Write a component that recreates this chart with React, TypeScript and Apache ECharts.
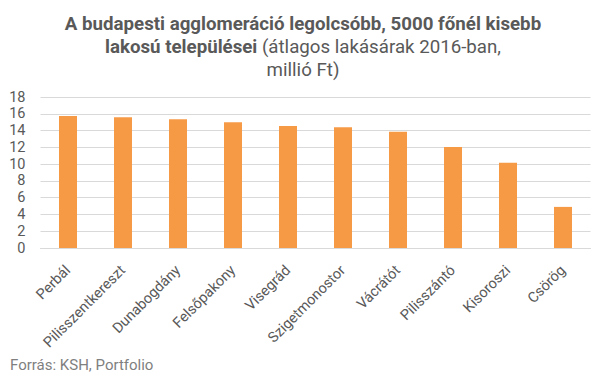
import React, { useEffect, useRef } from "react";
import * as echarts from "echarts";

const categories = [
  "Perbál",
  "Pilisszentkereszt",
  "Dunabogdány",
  "Felsőpakony",
  "Visegrád",
  "Szigetmonostor",
  "Vácrátót",
  "Pilisszántó",
  "Kisoroszi",
  "Csörög",
];
const prices = [15.75, 15.6, 15.35, 15.0, 14.55, 14.4, 13.85, 12.05, 10.15, 4.9];
const yTicks = { min: 0, max: 18, interval: 2 };
const titleLines = [
  "{b|A budapesti agglomeráció legolcsóbb, 5000 főnél kisebb}",
  "{b|lakosú települései}{n| (átlagos lakásárak 2016-ban,}",
  "{n|millió Ft)}",
];
const sourceText = "Forrás: KSH, Portfolio";

export default function App() {
  const ref = useRef<HTMLDivElement>(null);
  useEffect(() => {
    if (!ref.current) return;
    const chart = echarts.init(ref.current, null, { renderer: "svg" });
    const rich = {
      b: { fontFamily: "Roboto", fontWeight: "bold", fontSize: 18.7, fill: "#595959", color: "#595959" },
      n: { fontFamily: "Roboto", fontWeight: "normal", fontSize: 18.7, fill: "#595959", color: "#595959" },
    };
    chart.setOption({
      animation: false,
      textStyle: { fontFamily: "Roboto" },
      graphic: [
        ...titleLines.map((t, i) => ({
          type: "text",
          x: 303,
          y: 24 + i * 23,
          style: { text: t, rich, align: "center", verticalAlign: "middle" },
        })),
        {
          type: "text",
          left: 10,
          top: 357,
          style: { text: sourceText, fill: "#7f7f7f", fontSize: 15, fontFamily: "Roboto" },
        },
      ],
      grid: { left: 40.5, right: 14.5, top: 97, bottom: 130 },
      xAxis: {
        type: "category",
        data: categories,
        axisTick: { show: false },
        axisLine: { lineStyle: { color: "#D9D9D9" } },
        axisLabel: { rotate: 45, color: "#595959", fontSize: 14.5, margin: 20, interval: 0 },
      },
      yAxis: {
        type: "value",
        min: yTicks.min,
        max: yTicks.max,
        interval: yTicks.interval,
        axisLabel: { color: "#595959", fontSize: 14.5, margin: 15 },
        splitLine: { lineStyle: { color: "#D9D9D9" } },
        axisLine: { show: false },
        axisTick: { show: false },
      },
      series: [
        {
          type: "bar",
          data: prices,
          barWidth: 18,
          itemStyle: { color: "#F79A46" },
        },
      ],
    });
    return () => chart.dispose();
  }, []);
  return <div ref={ref} style={{ width: 605, height: 378, position: "absolute", left: 0, top: 0 }} />;
}
